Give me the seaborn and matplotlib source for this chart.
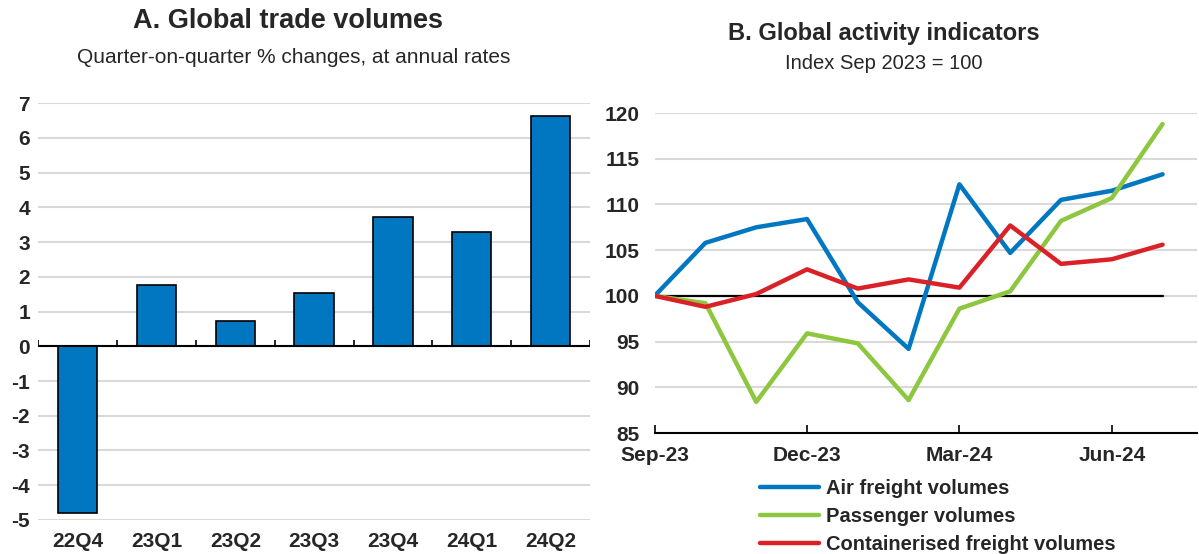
import matplotlib
matplotlib.use("Agg")
import matplotlib.pyplot as plt
import seaborn as sns
import pandas as pd
import numpy as np
from matplotlib import font_manager
from matplotlib.lines import Line2D

# ---------------- data ----------------
quarters = ["22Q4", "23Q1", "23Q2", "23Q3", "23Q4", "24Q1", "24Q2"]
trade_growth = [-4.8, 1.75, 0.72, 1.52, 3.73, 3.28, 6.63]

months = ["Sep-23", "Oct-23", "Nov-23", "Dec-23", "Jan-24", "Feb-24",
          "Mar-24", "Apr-24", "May-24", "Jun-24", "Jul-24"]
air_freight = [100, 105.8, 107.5, 108.4, 99.3, 94.2, 112.2, 104.7, 110.5, 111.5, 113.3]
passenger = [100, 99.2, 88.4, 95.9, 94.8, 88.6, 98.6, 100.5, 108.2, 110.7, 118.8]
container = [100, 98.8, 100.2, 102.9, 100.8, 101.8, 100.9, 107.7, 103.5, 104.0, 105.6]
series_names = ["Air freight volumes", "Passenger volumes", "Containerised freight volumes"]
month_ticks = ["Sep-23", "Dec-23", "Mar-24", "Jun-24"]
baseline = 100

# ---------------- style ----------------
sns.set_theme(style="white")
avail = {f.name for f in font_manager.fontManager.ttflist}
narrow = "Liberation Sans Narrow" if "Liberation Sans Narrow" in avail else "Liberation Sans"
plt.rcParams["font.family"] = [narrow, "DejaVu Sans"]
plt.rcParams["axes.unicode_minus"] = False

BLUE = "#0077C0"
GREEN = "#8DC63F"
RED = "#DA2128"
GRID = "#D9D9D9"

fig = plt.figure(figsize=(11.99, 5.54), dpi=100)

# ---------------- panel A ----------------
axA = fig.add_axes([0.032, 0.0614, 0.460, 0.7526])
dfA = pd.DataFrame({"quarter": quarters, "value": trade_growth})
sns.barplot(data=dfA, x="quarter", y="value", ax=axA, color=BLUE,
            width=0.5, edgecolor="black", linewidth=1.2, saturation=1, zorder=3)
axA.set_ylim(-5, 7)
axA.set_xlim(-0.5, len(quarters) - 0.5)
axA.set_yticks(range(-5, 8))
axA.yaxis.grid(True, color=GRID, linewidth=1.5, zorder=0)
axA.set_axisbelow(True)
for s in axA.spines.values():
    s.set_visible(False)
axA.axhline(0, color="black", linewidth=1.5, zorder=4)
bounds = np.arange(len(quarters) + 1) - 0.5
axA.vlines(bounds, 0, 0.17, color="black", linewidth=1.2, zorder=4)
axA.tick_params(axis="x", length=0, labelsize=15, pad=9)
axA.tick_params(axis="y", length=0, labelsize=15, pad=6)
for lab in axA.get_xticklabels() + axA.get_yticklabels():
    lab.set_fontweight("bold")
axA.set_xlabel("")
axA.set_ylabel("")
fig.text(0.24, 0.962, "A. Global trade volumes", ha="center", va="center",
         fontsize=19.5, fontweight="bold")
fig.text(0.245, 0.897, "Quarter-on-quarter % changes, at annual rates",
         ha="center", va="center", fontsize=15)

# ---------------- panel B ----------------
axB = fig.add_axes([0.546, 0.2184, 0.452, 0.5776])
idx = np.arange(len(months))
dfB = pd.DataFrame({"m": np.tile(idx, 3),
                    "value": air_freight + passenger + container,
                    "series": np.repeat(series_names, len(months))})
sns.lineplot(data=dfB, x="m", y="value", hue="series", hue_order=series_names,
             palette=[BLUE, GREEN, RED], linewidth=3.2, ax=axB, zorder=3,
             legend=False)
axB.plot(idx, [baseline] * len(idx), color="black", linewidth=1.6, zorder=2)
axB.set_ylim(85, 120)
axB.set_xlim(0, 10.67)
axB.set_yticks(range(85, 121, 5))
tick_pos = [months.index(t) for t in month_ticks]
axB.set_xticks(tick_pos)
axB.set_xticklabels(month_ticks)
axB.yaxis.grid(True, color=GRID, linewidth=1.5, zorder=0)
axB.set_axisbelow(True)
for k, s in axB.spines.items():
    s.set_visible(k == "bottom")
axB.spines["bottom"].set_color("black")
axB.spines["bottom"].set_linewidth(1.5)
axB.tick_params(axis="x", direction="in", length=6, width=1.2, color="black",
                labelsize=15, pad=9, bottom=True)
axB.tick_params(axis="y", length=0, labelsize=15, pad=11)
for lab in axB.get_xticklabels() + axB.get_yticklabels():
    lab.set_fontweight("bold")
axB.set_xlabel("")
axB.set_ylabel("")
fig.text(0.737, 0.94, "B. Global activity indicators", ha="center", va="center",
         fontsize=17, fontweight="bold")
fig.text(0.737, 0.886, "Index Sep 2023 = 100", ha="center", va="center", fontsize=14.5)

handles = [Line2D([0], [0], color=c, linewidth=3.2, solid_capstyle="round")
           for c in [BLUE, GREEN, RED]]
leg = fig.legend(handles, series_names, loc="lower left",
                 bbox_to_anchor=(0.634, 0.0), frameon=False,
                 fontsize=14.5, handlelength=2.9, handletextpad=0.35,
                 labelspacing=0.44, borderaxespad=0, borderpad=0)
for t in leg.get_texts():
    t.set_fontweight("bold")

fig.savefig("out.png", dpi=100)
